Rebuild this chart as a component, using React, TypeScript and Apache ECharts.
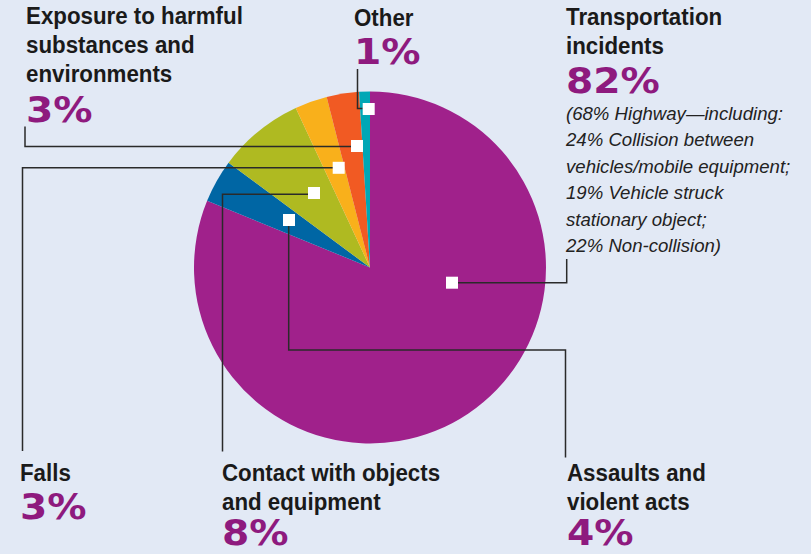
import React, { useEffect, useRef } from "react";
import * as echarts from "echarts";

const categories = [
  "Transportation incidents",
  "Assaults and violent acts",
  "Contact with objects and equipment",
  "Falls",
  "Exposure to harmful substances and environments",
  "Other",
];
const values = [82, 4, 8, 3, 3, 1];
const percentLabels = ["82%", "4%", "8%", "3%", "3%", "1%"];
const sliceColors = ["#A0218B", "#0066A4", "#AFBA21", "#F9B01B", "#F15A23", "#00A7B5"];
const titleLines = [
  ["Transportation", "incidents"],
  ["Assaults and", "violent acts"],
  ["Contact with objects", "and equipment"],
  ["Falls"],
  ["Exposure to harmful", "substances and", "environments"],
  ["Other"],
];
const noteLines = [
  "(68% Highway\u2014including:",
  "24% Collision between",
  "vehicles/mobile equipment;",
  "19% Vehicle struck",
  "stationary object;",
  "22% Non-collision)",
];

// annotation layout (label anchor x, first title line center y, percent center y)
const labelLayout = [
  { x: 566, y: 16.7, pctY: 81 },
  { x: 567, y: 472.5, pctY: 532.5 },
  { x: 222, y: 472.5, pctY: 532.5 },
  { x: 20, y: 472.5, pctY: 507 },
  { x: 26, y: 16.2, pctY: 110 },
  { x: 354, y: 17.7, pctY: 52 },
];
const markerPos = [
  [452, 282.7],
  [289, 220],
  [314, 193],
  [338.7, 167.8],
  [357, 146],
  [368.7, 109],
];
const leaderPaths = [
  [[458, 282.7], [566.7, 282.7], [566.7, 259]],
  [[288.7, 226], [288.7, 350], [565.5, 350], [565.5, 457.5]],
  [[308, 194.3], [222.5, 194.3], [222.5, 451.5]],
  [[333, 167.7], [22.5, 167.7], [22.5, 451]],
  [[351, 146.5], [25, 146.5], [25, 126.5]],
  [[362.7, 108.5], [357.5, 108.5], [357.5, 69]],
];

const TITLE_FONT = 'bold 24px "Liberation Sans", Arial, sans-serif';
const PCT_FONT = 'bold 36px "DejaVu Sans", sans-serif';
const NOTE_FONT = 'italic 18.6px "Liberation Sans", Arial, sans-serif';
const PCT_COLOR = "#8E1A7E";
const TEXT_COLOR = "#1A1A1A";

function txt(text: string, x: number, y: number, font: string, fill: string, scaleX = 1, lineHeight?: number) {
  const style: any = {
    text,
    x: 0,
    y: 0,
    font,
    fill,
    align: "left",
    verticalAlign: "middle",
    textAlign: "left",
    textVerticalAlign: "middle",
  };
  if (lineHeight) style.lineHeight = lineHeight;
  return { type: "text", x, y, scaleX, z: 10, style };
}

export default function App() {
  const ref = useRef<HTMLDivElement>(null);
  useEffect(() => {
    if (!ref.current) return;
    const chart = echarts.init(ref.current, null, { renderer: "svg" });
    const graphics: any[] = [];
    leaderPaths.forEach((pts) => {
      graphics.push({
        type: "polyline",
        z: 5,
        shape: { points: pts },
        style: { stroke: "#2A2A2A", lineWidth: 1.5, fill: null },
      });
    });
    markerPos.forEach(([cx, cy]) => {
      graphics.push({
        type: "rect",
        z: 6,
        shape: { x: cx - 6, y: cy - 6, width: 12, height: 12 },
        style: { fill: "#FFFFFF" },
      });
    });
    titleLines.forEach((lines, i) => {
      const L = labelLayout[i];
      lines.forEach((line, j) => {
        graphics.push(txt(line, L.x, L.y + j * 28.8, TITLE_FONT, TEXT_COLOR, 0.93));
      });
      graphics.push(txt(percentLabels[i], L.x, L.pctY, PCT_FONT, PCT_COLOR, 1.09, 28));
    });
    noteLines.forEach((line, j) => {
      graphics.push(txt(line, 566, 113.3 + j * 26.5, NOTE_FONT, "#222222"));
    });

    chart.setOption({
      animation: false,
      backgroundColor: "#E2E9F5",
      series: [
        {
          type: "pie",
          center: [370, 267.5],
          radius: [0, 176],
          startAngle: 90,
          clockwise: true,
          label: { show: false },
          labelLine: { show: false },
          silent: true,
          itemStyle: { borderWidth: 0 },
          data: categories.map((name, i) => ({
            name,
            value: values[i],
            itemStyle: { color: sliceColors[i] },
          })),
        },
      ],
      graphic: graphics,
    });
    return () => chart.dispose();
  }, []);
  return (
    <div
      ref={ref}
      style={{ position: "fixed", left: 0, top: 0, width: 811, height: 554 }}
    />
  );
}
